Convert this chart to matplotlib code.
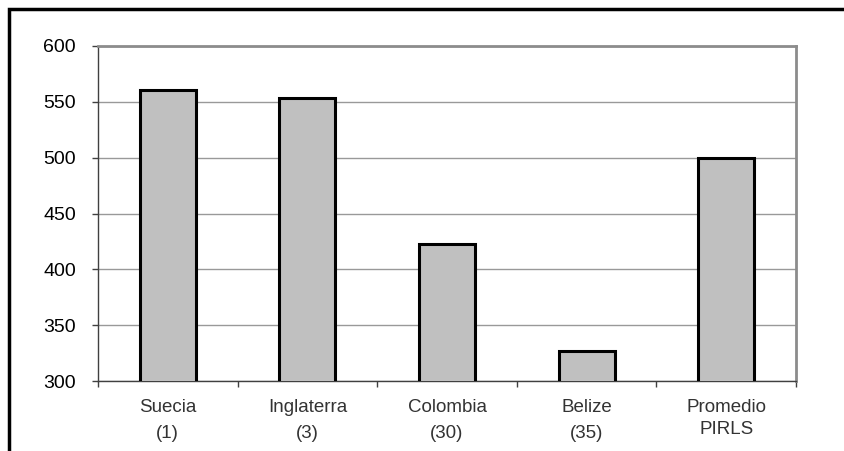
import numpy as np
import matplotlib.pyplot as plt
from matplotlib.patches import Rectangle

categories = ['Suecia\n(1)', 'Inglaterra\n(3)', 'Colombia\n(30)', 'Belize\n(35)', 'Promedio\nPIRLS']
scores = [561, 553, 423, 327, 500]
y_ticks = [300, 350, 400, 450, 500, 550, 600]

plt.rcParams['font.family'] = ['Liberation Sans', 'DejaVu Sans']

W, H = 844, 451
fig = plt.figure(figsize=(W / 100, H / 100), dpi=100)
ax = fig.add_axes([98 / W, 1 - 381 / H, (796 - 98) / W, (381 - 46) / H])

x = np.arange(len(categories))
ax.bar(x, scores, width=0.4, bottom=0, color='#c0c0c0', edgecolor='black',
       linewidth=2.2, zorder=3)

ax.set_xlim(-0.5, len(categories) - 0.5)
ax.set_ylim(300, 600)
ax.set_yticks(y_ticks)
ax.set_yticklabels([str(v) for v in y_ticks], fontsize=14)
ax.yaxis.grid(True, color='#999999', linewidth=1, zorder=0)

# category labels centred, ticks at the boundaries
ax.set_xticks(np.arange(len(categories) + 1) - 0.5)
ax.set_xticklabels([])
ax.tick_params(axis='x', direction='out', length=4, width=1, color='#404040')
ax.tick_params(axis='y', direction='out', length=4, width=1, color='#404040', pad=12)
for i, lab in enumerate(categories):
    spacing = 1.34 if lab.startswith('Promedio') else 1.65
    ax.text(i, -0.055, lab, transform=ax.get_xaxis_transform(), ha='center', va='top',
            fontsize=13.5, color='#333333', linespacing=spacing)

for side in ['left', 'bottom']:
    ax.spines[side].set_color('#404040')
    ax.spines[side].set_linewidth(1)
for side in ['top', 'right']:
    ax.spines[side].set_color('#8c8c8c')
    ax.spines[side].set_linewidth(2)

# outer frame, cut off by the picture edge
frame = Rectangle((9 / W, -0.2), 1.2, 1.2 - 9 / H, transform=fig.transFigure,
                  fill=False, edgecolor='black', linewidth=2.5, clip_on=False)
fig.patches.append(frame)

fig.savefig('out.png', dpi=100)
